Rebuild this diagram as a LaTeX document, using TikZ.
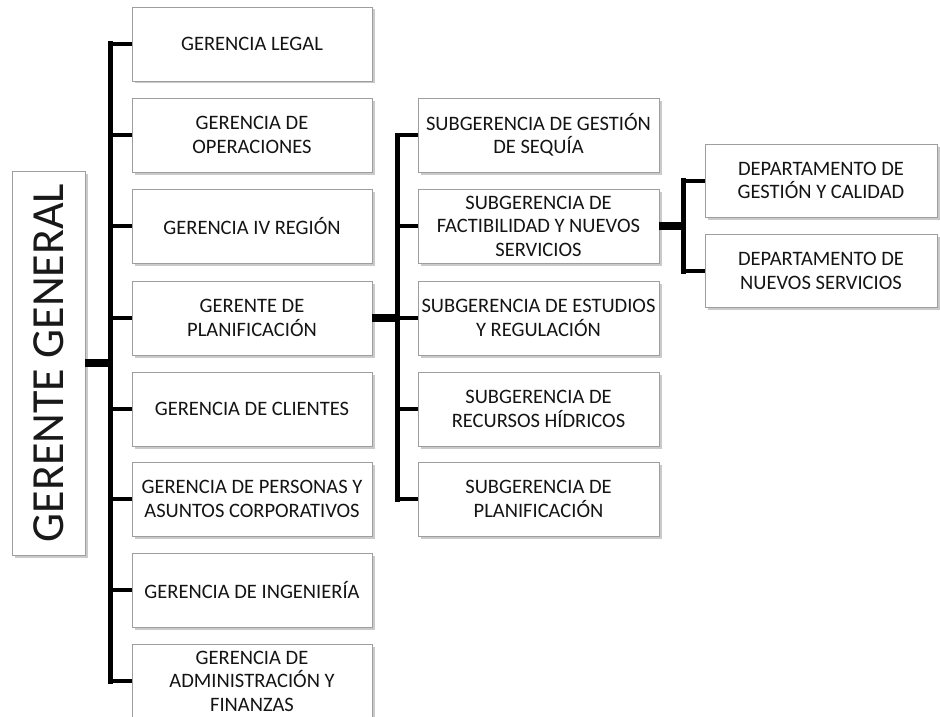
\documentclass[tikz,border=0pt]{standalone}
\usepackage{fontspec}
\setmainfont{Carlito}
\usetikzlibrary{shadows}
\tikzset{
  unit/.style={draw=black!38, line width=0.9pt, fill=white,
    drop shadow={shadow xshift=2.5pt, shadow yshift=-2.5pt, opacity=0.35, fill=black!60},
    align=center, inner xsep=0.5pt, inner ysep=2pt,
    font=\fontsize{20.5}{23.5}\selectfont, text=black!92},
  lbox/.style={unit, minimum width=240pt, minimum height=74pt},
  mbox/.style={unit, minimum width=241pt, minimum height=74pt},
  rbox/.style={unit, minimum width=232pt, minimum height=73pt},
  bus/.style={line width=5pt, line cap=rect},
  stub/.style={line width=4pt},
  trunk/.style={line width=8pt},
}
\begin{document}
\begin{tikzpicture}[x=1pt,y=-1pt]
\useasboundingbox (0,0) rectangle (940,717);

% general manager, text set vertically
\node[unit, minimum width=73pt, minimum height=384pt] (gg) at (48.5,363) {};
\node[rotate=90, font=\fontsize{46}{50}\selectfont, text=black!90] (ggt) at (gg.center) {GERENTE GENERAL};

% first level
\node[lbox] (l1) at (252,44)  {GERENCIA LEGAL};
\node[lbox] (l2) at (252,135) {GERENCIA DE\\OPERACIONES};
\node[lbox] (l3) at (252,226) {GERENCIA IV REGIÓN};
\node[lbox] (l4) at (252,318) {GERENTE DE\\PLANIFICACIÓN};
\node[lbox] (l5) at (252,409) {GERENCIA DE CLIENTES};
\node[lbox] (l6) at (252,499) {GERENCIA DE PERSONAS Y\\ASUNTOS CORPORATIVOS};
\node[lbox] (l7) at (252,590) {GERENCIA DE INGENIERÍA};
\node[lbox] (l8) at (252,681) {GERENCIA DE\\ADMINISTRACIÓN Y\\FINANZAS};

% planning sub-units
\node[mbox] (m1) at (538.5,135) {SUBGERENCIA DE GESTIÓN\\DE SEQUÍA};
\node[mbox] (m2) at (538.5,226) {SUBGERENCIA DE\\FACTIBILIDAD Y NUEVOS\\SERVICIOS};
\node[mbox] (m3) at (538.5,318) {SUBGERENCIA DE ESTUDIOS\\Y REGULACIÓN};
\node[mbox] (m4) at (538.5,409) {SUBGERENCIA DE\\RECURSOS HÍDRICOS};
\node[mbox] (m5) at (538.5,499) {SUBGERENCIA DE\\PLANIFICACIÓN};

% departments
\node[rbox] (r1) at (821,180.5) {DEPARTAMENTO DE\\GESTIÓN Y CALIDAD};
\node[rbox] (r2) at (821,271)   {DEPARTAMENTO DE\\NUEVOS SERVICIOS};

% bus positions
\coordinate (ba) at (110,0);
\coordinate (bb) at (397,0);
\coordinate (bc) at (683,0);

% main bus
\draw[trunk] (gg.east) -- (gg.east -| ba);
\draw[bus] (l1.west -| ba) -- (l8.west -| ba);
\foreach \n in {l1,l2,l3,l4,l5,l6,l7,l8}
  \draw[stub] (\n.west -| ba) -- (\n.west);

% planning bus
\draw[trunk] (l4.east) -- (l4.east -| bb);
\draw[bus] (m1.west -| bb) -- (m5.west -| bb);
\foreach \n in {m1,m2,m3,m4,m5}
  \draw[stub] (\n.west -| bb) -- (\n.west);

% department bus
\draw[trunk] (m2.east) -- (m2.east -| bc);
\draw[bus] (r1.west -| bc) -- (r2.west -| bc);
\foreach \n in {r1,r2}
  \draw[stub] (\n.west -| bc) -- (\n.west);
\end{tikzpicture}
\end{document}
